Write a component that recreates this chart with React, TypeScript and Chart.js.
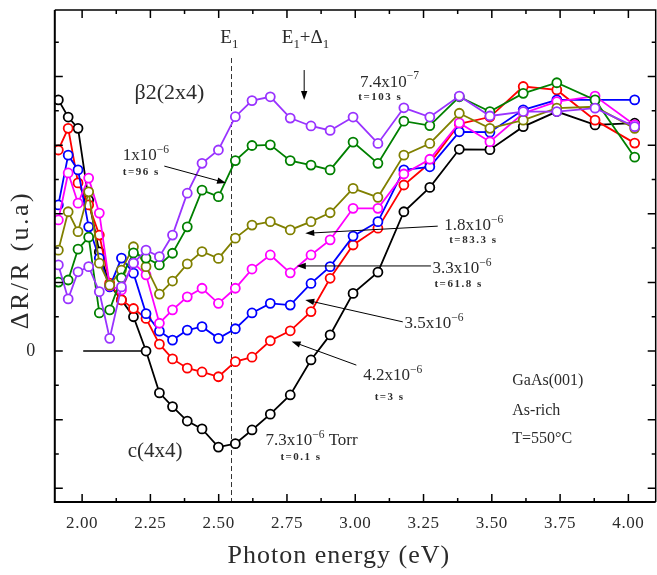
import React, { useEffect, useRef } from 'react';
import { Chart, registerables } from 'chart.js';

Chart.register(...registerables);

const FONT = "'Liberation Serif', 'DejaVu Serif', serif";
const TEXT = '#2b2b2b';

// Photon energy (eV) of each measured point
const energy = [1.913, 1.949, 1.985, 2.024, 2.063, 2.101, 2.144, 2.188, 2.234, 2.283, 2.331, 2.385, 2.439, 2.499, 2.561, 2.622, 2.689, 2.762, 2.838, 2.908, 2.992, 3.083, 3.178, 3.273, 3.381, 3.493, 3.615, 3.738, 3.878, 4.023];

// ΔR/R (arbitrary units) for each As pressure
const p7_3e6 = [7.32, 6.82, 6.49, 4.40, 2.89, 1.92, 1.49, 1.00, 0.00, -1.22, -1.62, -2.04, -2.27, -2.80, -2.70, -2.30, -1.84, -1.28, -0.26, 0.47, 1.68, 2.30, 4.06, 4.77, 5.88, 5.87, 6.54, 6.98, 6.59, 6.64];
const p4_2e6 = [5.86, 6.49, 4.90, 4.26, 3.38, 1.98, 1.49, 1.24, 0.95, 0.20, -0.23, -0.50, -0.61, -0.75, -0.31, -0.18, 0.30, 0.59, 1.15, 2.12, 3.09, 3.58, 4.84, 5.48, 6.62, 6.82, 7.71, 7.61, 6.73, 6.06];
const p3_5e6 = [4.26, 5.71, 5.28, 3.62, 2.71, 1.87, 2.71, 2.27, 1.09, 0.58, 0.32, 0.61, 0.71, 0.37, 0.65, 1.11, 1.39, 1.34, 1.97, 2.46, 3.35, 3.77, 5.28, 5.37, 6.39, 6.38, 7.03, 7.32, 7.32, 7.32];
const p3_3e6 = [3.82, 5.19, 4.31, 5.04, 4.02, 1.90, 1.78, 2.57, 2.22, 0.81, 1.20, 1.58, 1.83, 1.39, 1.83, 2.39, 2.80, 2.28, 2.80, 3.24, 4.16, 4.16, 5.16, 5.59, 6.65, 6.10, 6.93, 7.27, 7.43, 6.59];
const p1_8e6 = [2.94, 4.06, 3.48, 4.64, 2.56, 1.92, 2.36, 3.04, 2.46, 1.66, 2.04, 2.54, 2.90, 2.70, 3.29, 3.67, 3.77, 3.53, 3.77, 4.03, 4.74, 4.48, 5.71, 6.05, 6.93, 6.49, 6.73, 7.08, 7.12, 6.49];
const p1_0e6 = [2.01, 2.07, 2.97, 3.32, 1.11, 1.20, 2.13, 2.86, 2.71, 2.51, 2.85, 3.62, 4.69, 4.50, 5.55, 5.99, 6.01, 5.55, 5.42, 5.28, 6.09, 5.47, 6.70, 6.57, 7.41, 6.98, 7.51, 7.82, 7.32, 5.65];
const p7_4e7 = [2.51, 1.52, 2.31, 2.46, 1.73, 0.37, 1.87, 2.56, 2.94, 2.75, 3.38, 4.60, 5.47, 5.86, 6.83, 7.30, 7.41, 6.79, 6.56, 6.43, 6.82, 6.05, 7.09, 6.82, 7.43, 6.85, 6.98, 6.98, 7.08, 6.54];

const seriesNames = ['7.4x10-7', '1x10-6', '1.8x10-6', '3.3x10-6', '3.5x10-6', '4.2x10-6', '7.3x10-6'];
const seriesValues = [p7_4e7, p1_0e6, p1_8e6, p3_3e6, p3_5e6, p4_2e6, p7_3e6];
const seriesColors = ['#9933ff', '#008000', '#808000', '#ff00ff', '#0000ff', '#ff0000', '#000000'];

const xTickLabels = ['2.00', '2.25', '2.50', '2.75', '3.00', '3.25', '3.50', '3.75', '4.00'];
const yTickLabels = ['0'];

const X_TITLE = 'Photon energy (eV)';
const Y_TITLE = 'ΔR/R (u.a)';
const E1_ENERGY = 2.544;

type Note = { text: string; x: number; y: number; size: number; small?: boolean };
const notes: Note[] = [
  { text: 'E_{1}', x: 2.506, y: 8.98, size: 19 },
  { text: 'E_{1}+Δ_{1}', x: 2.731, y: 8.98, size: 19 },
  { text: 'β2(2x4)', x: 2.192, y: 7.35, size: 22 },
  { text: '7.4x10^{−7}', x: 3.017, y: 7.71, size: 17 },
  { text: 't=103 s', x: 3.011, y: 7.32, size: 11, small: true },
  { text: '1x10^{−6}', x: 2.149, y: 5.57, size: 17 },
  { text: 't=96 s', x: 2.149, y: 5.13, size: 11, small: true },
  { text: '1.8x10^{−6}', x: 3.326, y: 3.53, size: 17 },
  { text: 't=83.3 s', x: 3.344, y: 3.14, size: 11, small: true },
  { text: '3.3x10^{−6}', x: 3.283, y: 2.27, size: 17 },
  { text: 't=61.8 s', x: 3.29, y: 1.87, size: 11, small: true },
  { text: '3.5x10^{−6}', x: 3.18, y: 0.67, size: 17 },
  { text: '4.2x10^{−6}', x: 3.029, y: -0.85, size: 17 },
  { text: 't=3 s', x: 3.071, y: -1.43, size: 11, small: true },
  { text: '7.3x10^{−6} Torr', x: 2.671, y: -2.74, size: 17 },
  { text: 't=0.1 s', x: 2.726, y: -3.18, size: 11, small: true },
  { text: 'GaAs(001)', x: 3.575, y: -0.99, size: 16 },
  { text: 'As-rich', x: 3.575, y: -1.87, size: 16 },
  { text: 'T=550°C', x: 3.575, y: -2.68, size: 16 },
  { text: 'c(4x4)', x: 2.167, y: -3.08, size: 21 },
];

// arrows: [fromX, fromY, toX, toY] in data units
const arrows: number[][] = [
  [2.813, 8.19, 2.813, 7.32],
  [2.301, 5.39, 2.527, 4.9],
  [3.302, 3.64, 2.817, 3.43],
  [3.277, 2.48, 2.786, 2.48],
  [3.174, 0.85, 2.817, 1.49],
  [3.004, -0.41, 2.767, 0.28],
];

function parseRich(s: string) {
  const out: { t: string; sup?: boolean; sub?: boolean }[] = [];
  const re = /(\^|_)\{([^}]*)\}/g;
  let last = 0;
  let m: RegExpExecArray | null;
  while ((m = re.exec(s))) {
    if (m.index > last) out.push({ t: s.slice(last, m.index) });
    out.push({ t: m[2], sup: m[1] === '^', sub: m[1] === '_' });
    last = re.lastIndex;
  }
  if (last < s.length) out.push({ t: s.slice(last) });
  return out;
}

function drawRich(ctx: CanvasRenderingContext2D, x: number, y: number, text: string, size: number, small?: boolean) {
  let cx = x;
  const segs = parseRich(text);
  ctx.save();
  ctx.fillStyle = TEXT;
  ctx.textAlign = 'left';
  ctx.textBaseline = 'alphabetic';
  (ctx as any).letterSpacing = small ? '1.5px' : '0px';
  for (const s of segs) {
    const fs = s.sup || s.sub ? size * 0.68 : size;
    ctx.font = `${small ? 'bold ' : ''}${fs}px ${FONT}`;
    const dy = s.sup ? -size * 0.42 : s.sub ? size * 0.28 : 0;
    ctx.fillText(s.t, cx, y + dy);
    cx += ctx.measureText(s.t).width;
  }
  ctx.restore();
}

function drawArrow(ctx: CanvasRenderingContext2D, x1: number, y1: number, x2: number, y2: number) {
  const ang = Math.atan2(y2 - y1, x2 - x1);
  const hl = 9;
  const hw = 3.2;
  ctx.save();
  ctx.strokeStyle = '#000';
  ctx.fillStyle = '#000';
  ctx.lineWidth = 1;
  ctx.beginPath();
  ctx.moveTo(x1, y1);
  ctx.lineTo(x2 - Math.cos(ang) * hl * 0.8, y2 - Math.sin(ang) * hl * 0.8);
  ctx.stroke();
  ctx.beginPath();
  ctx.moveTo(x2, y2);
  ctx.lineTo(x2 - Math.cos(ang) * hl - Math.sin(ang) * hw, y2 - Math.sin(ang) * hl + Math.cos(ang) * hw);
  ctx.lineTo(x2 - Math.cos(ang) * hl + Math.sin(ang) * hw, y2 - Math.sin(ang) * hl - Math.cos(ang) * hw);
  ctx.closePath();
  ctx.fill();
  ctx.restore();
}

const framePlugin = {
  id: 'framePlugin',
  beforeDraw(chart: any) {
    (chart.ctx as any).letterSpacing = '0.6px';
  },
  beforeDatasetsDraw(chart: any) {
    const { ctx, chartArea, scales } = chart;
    const xs = scales.x;
    const ys = scales.y;
    ctx.save();
    (ctx as any).letterSpacing = '0px';
    // E1 dashed line
    const px = Math.round(xs.getPixelForValue(E1_ENERGY)) + 0.5;
    ctx.strokeStyle = '#333';
    ctx.lineWidth = 1;
    ctx.setLineDash([5, 3]);
    ctx.beginPath();
    ctx.moveTo(px, ys.getPixelForValue(8.54));
    ctx.lineTo(px, chartArea.bottom);
    ctx.stroke();
    ctx.setLineDash([]);
    // zero marker line
    ctx.strokeStyle = '#000';
    ctx.lineWidth = 1.6;
    const zy = ys.getPixelForValue(0);
    ctx.beginPath();
    ctx.moveTo(xs.getPixelForValue(2.004), zy);
    ctx.lineTo(xs.getPixelForValue(energy[8]), zy);
    ctx.stroke();
    ctx.restore();
  },
  afterDatasetsDraw(chart: any) {
    const { ctx, chartArea, scales } = chart;
    const xs = scales.x;
    const ys = scales.y;
    const { left, right, top, bottom } = chartArea;
    ctx.save();
    (ctx as any).letterSpacing = '0px';
    ctx.strokeStyle = '#000';
    // frame
    ctx.lineWidth = 2;
    ctx.beginPath();
    ctx.moveTo(left, top);
    ctx.lineTo(left, bottom);
    ctx.lineTo(right, bottom);
    ctx.stroke();
    ctx.lineWidth = 1.5;
    ctx.beginPath();
    ctx.moveTo(left, top);
    ctx.lineTo(right, top);
    ctx.lineTo(right, bottom);
    ctx.stroke();
    // x ticks (every 0.125)
    ctx.lineWidth = 1.5;
    for (let k = -1; k <= 17; k++) {
      const v = 2 + k * 0.125;
      const p = xs.getPixelForValue(v);
      if (p <= left + 1 || p >= right - 1) continue;
      const len = k % 2 === 0 ? 8 : 4;
      ctx.beginPath();
      ctx.moveTo(p, bottom);
      ctx.lineTo(p, bottom - len);
      ctx.moveTo(p, top);
      ctx.lineTo(p, top + len);
      ctx.stroke();
    }
    // y ticks (every unit)
    for (let v = -4; v <= 9; v++) {
      const p = ys.getPixelForValue(v);
      const len = v % 2 === 0 ? 8 : 4;
      ctx.beginPath();
      ctx.moveTo(left, p);
      ctx.lineTo(left + len, p);
      ctx.moveTo(right, p);
      ctx.lineTo(right - len, p);
      ctx.stroke();
    }
    // axis titles
    ctx.fillStyle = TEXT;
    ctx.font = `26px ${FONT}`;
    (ctx as any).letterSpacing = '1px';
    ctx.textAlign = 'center';
    ctx.textBaseline = 'middle';
    ctx.fillText(X_TITLE, xs.getPixelForValue(2.94), 556);
    ctx.save();
    (ctx as any).letterSpacing = '2.5px';
    ctx.translate(21, (top + bottom) / 2 + 4);
    ctx.rotate(-Math.PI / 2);
    ctx.fillText(Y_TITLE, 0, 0);
    ctx.restore();
    ctx.restore();
    // annotations
    for (const n of notes) {
      drawRich(ctx, xs.getPixelForValue(n.x), ys.getPixelForValue(n.y), n.text, n.size, n.small);
    }
    for (const a of arrows) {
      drawArrow(ctx, xs.getPixelForValue(a[0]), ys.getPixelForValue(a[1]), xs.getPixelForValue(a[2]), ys.getPixelForValue(a[3]));
    }
  },
};

export default function App() {
  const ref = useRef<HTMLCanvasElement | null>(null);
  useEffect(() => {
    if (!ref.current) return;
    const datasets = seriesValues.map((vals, i) => ({
      label: seriesNames[i],
      data: vals.map((v, j) => ({ x: energy[j], y: v })),
      borderColor: seriesColors[i],
      backgroundColor: '#ffffff',
      pointBackgroundColor: '#ffffff',
      pointBorderColor: seriesColors[i],
      pointRadius: 4.5,
      pointBorderWidth: 1.8,
      borderWidth: 1.8,
      tension: 0,
      fill: false,
    }));
    const chart = new Chart(ref.current, {
      type: 'line',
      data: { datasets },
      options: {
        animation: false,
        responsive: false,
        devicePixelRatio: 1,
        layout: { padding: { left: 0, right: 2.6, top: 10, bottom: 0 } },
        plugins: { legend: { display: false }, tooltip: { enabled: false } },
        scales: {
          x: {
            type: 'linear',
            min: 1.9,
            max: 4.1,
            grid: { display: false },
            border: { display: false },
            ticks: {
              stepSize: 0.25,
              includeBounds: false,
              autoSkip: false,
              maxRotation: 0,
              color: TEXT,
              padding: 3,
              font: { family: FONT, size: 17 },
              callback: (v: any) => {
                const s = Number(v).toFixed(2);
                return xTickLabels.includes(s) ? s : null;
              },
            },
            title: { display: false },
            afterFit: (s: any) => {
              s.height = 73;
              s.paddingLeft = 0;
              s.paddingRight = 0;
            },
          },
          y: {
            min: -4.4,
            max: 9.94,
            grid: { display: false },
            border: { display: false },
            ticks: {
              stepSize: 2,
              includeBounds: false,
              color: TEXT,
              padding: 11,
              font: { family: FONT, size: 18 },
              callback: (v: any) => {
                const s = String(Number(v));
                return yTickLabels.includes(s) ? s : null;
              },
            },
            title: { display: false },
            afterFit: (s: any) => {
              s.width = 54.8;
              s.paddingTop = 0;
              s.paddingBottom = 0;
            },
          },
        },
      } as any,
      plugins: [framePlugin],
    });
    return () => chart.destroy();
  }, []);
  return (
    <div style={{ position: 'absolute', left: 0, top: 0, width: 657, height: 575, overflow: 'hidden', background: '#fff' }}>
      <canvas ref={ref} width={662} height={575} style={{ display: 'block', width: 662, height: 575 }} />
    </div>
  );
}
